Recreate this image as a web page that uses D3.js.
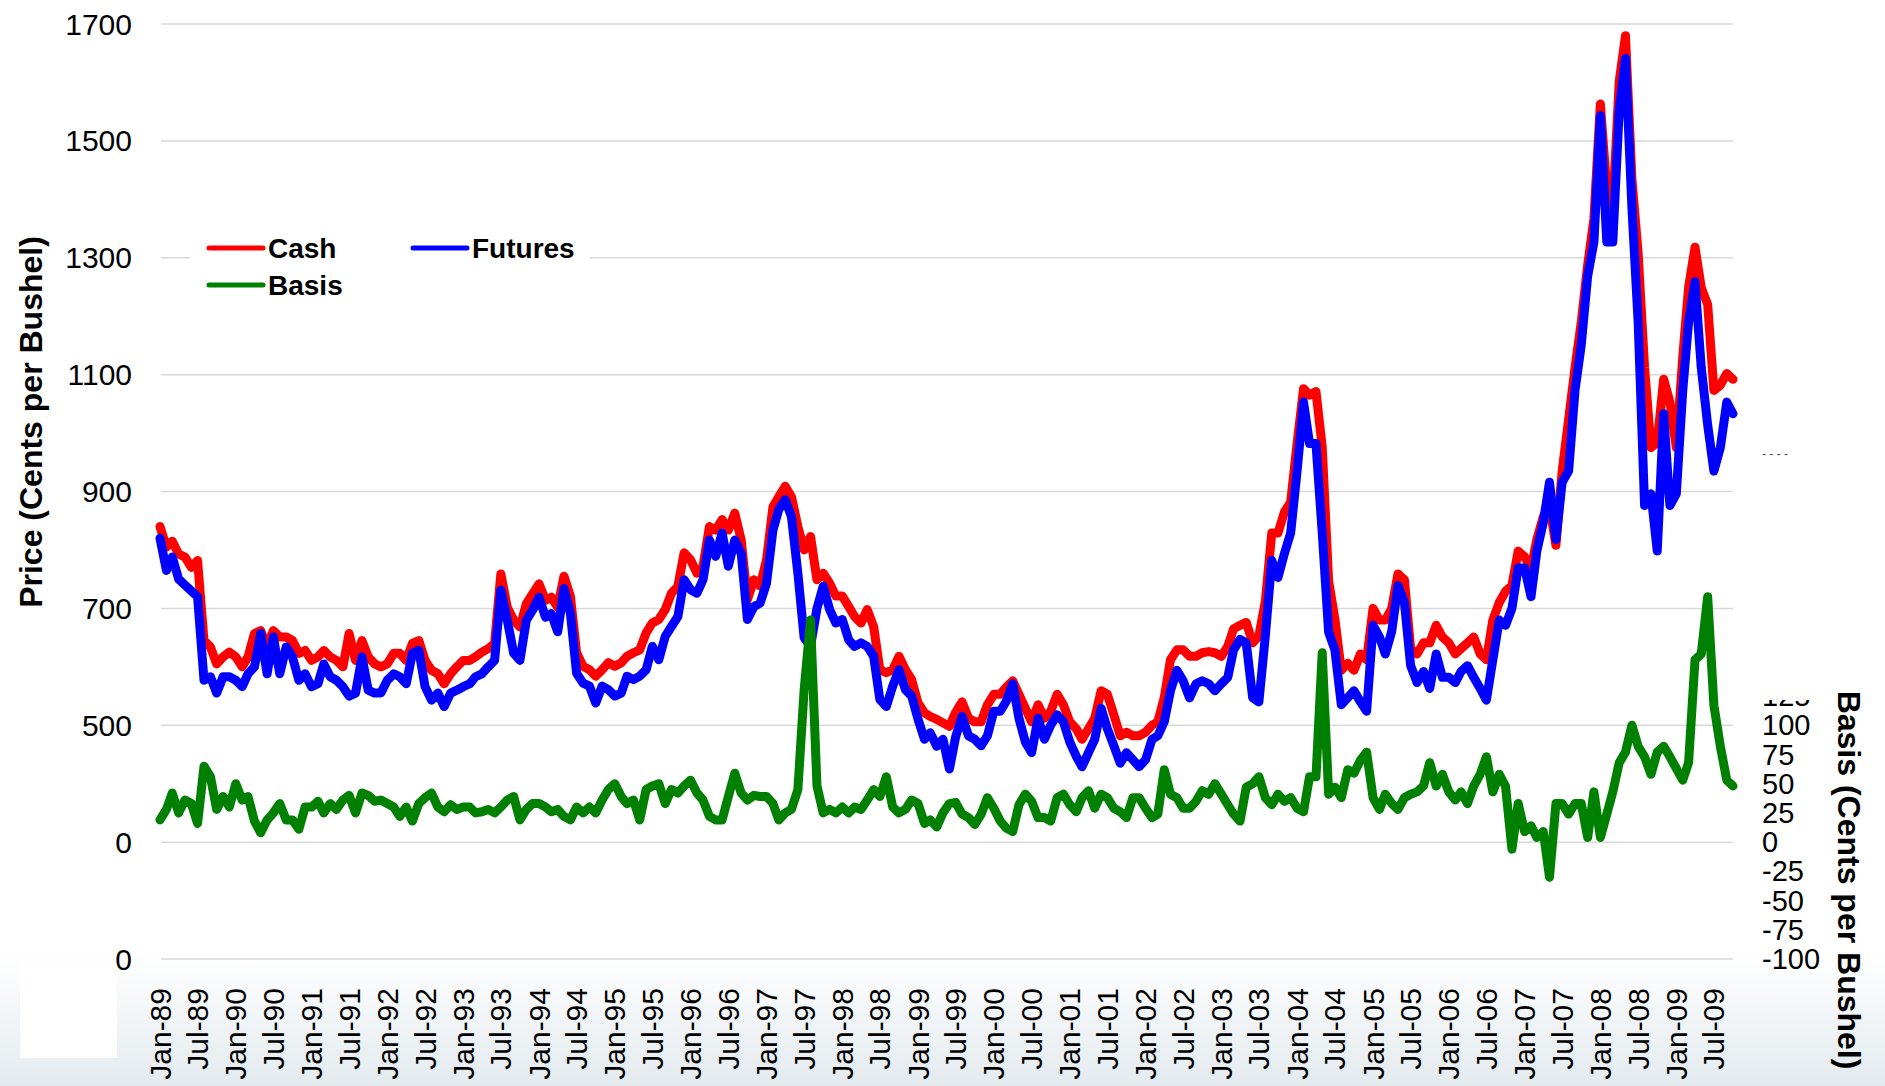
<!DOCTYPE html>
<html>
<head>
<meta charset="utf-8">
<script src="https://cdn.jsdelivr.net/npm/d3@7"></script>
<style>
  body { margin: 0; background: #fff; }
  svg { display: block; }
  text { font-family: "Liberation Sans", Arial, sans-serif; }
</style>
</head>
<body>
<svg id="chart" width="1885" height="1086"></svg>
<script>
// monthly values, Jan-89 .. Oct-09 (cents per bushel)
var cash = [
  840, 805, 815, 793, 788, 770, 782, 645, 634, 605, 617, 625,
  617, 600, 617, 657, 662, 634, 662, 651, 651, 645, 623, 628,
  611, 617, 628, 617, 611, 600, 657, 611, 645, 617, 605, 600,
  605, 623, 623, 611, 640, 645, 611, 594, 588, 571, 588, 600,
  611, 611, 617, 625, 631, 640, 759, 702, 680, 668, 708, 725,
  742, 714, 719, 702, 755, 721, 624, 601, 595, 584, 595, 607,
  601, 607, 618, 624, 629, 658, 675, 681, 698, 726, 738, 795,
  783, 760, 772, 840, 834, 852, 834, 863, 817, 715, 749, 738,
  783, 874, 891, 909, 891, 840, 800, 823, 749, 760, 743, 721,
  721, 703, 686, 675, 698, 669, 595, 590, 595, 618, 595, 578,
  538, 521, 515, 510, 504, 498, 522, 540, 512, 506, 506, 535,
  553, 553, 565, 576, 553, 529, 506, 535, 512, 524, 553, 535,
  506, 494, 476, 494, 512, 559, 553, 518, 482, 488, 482, 482,
  488, 500, 506, 547, 612, 629, 629, 618, 618, 624, 626, 624,
  618, 635, 665, 671, 676, 641, 653, 712, 829, 829, 865, 882,
  982, 1076, 1065, 1071, 976, 747, 682, 594, 606, 594, 622, 612,
  700, 680, 680, 700, 759, 749, 631, 622, 641, 641, 671, 651,
  641, 622, 631, 641, 651, 622, 612, 680, 710, 729, 739, 798,
  788, 769, 818, 857, 876, 808, 935, 1023, 1112, 1190, 1288, 1367,
  1563, 1416, 1386, 1602, 1680, 1435, 1308, 1112, 975, 984, 1092, 1053,
  975, 1131, 1249, 1318, 1249, 1220, 1073, 1082, 1102, 1092
];
var futures = [
  820, 765, 788, 750, 740, 730, 720, 577, 583, 555, 583, 583,
  577, 566, 588, 600, 657, 588, 651, 588, 634, 617, 577, 588,
  566, 571, 605, 583, 577, 566, 550, 555, 617, 560, 555, 555,
  577, 588, 583, 571, 623, 628, 566, 543, 555, 532, 555, 560,
  566, 571, 583, 588, 600, 611, 731, 680, 623, 611, 680, 697,
  719, 685, 691, 660, 734, 692, 589, 572, 567, 538, 567, 561,
  550, 555, 584, 578, 584, 595, 635, 612, 652, 669, 686, 749,
  732, 726, 749, 817, 789, 829, 772, 817, 794, 681, 703, 709,
  743, 834, 869, 886, 857, 760, 650, 635, 700, 738, 698, 675,
  681, 646, 635, 641, 635, 618, 544, 532, 567, 595, 561, 550,
  510, 476, 487, 464, 476, 425, 480, 515, 482, 476, 465, 482,
  524, 524, 541, 571, 512, 471, 453, 512, 476, 500, 518, 506,
  471, 447, 429, 453, 476, 529, 494, 465, 435, 453, 441, 429,
  441, 476, 482, 506, 559, 594, 576, 547, 571, 576, 571, 559,
  571, 582, 629, 647, 641, 547, 540, 653, 782, 753, 794, 829,
  935, 1053, 982, 982, 830, 659, 629, 535, 547, 559, 540, 524,
  671, 651, 622, 661, 739, 710, 602, 573, 592, 563, 622, 582,
  582, 573, 592, 602, 582, 563, 543, 612, 680, 671, 700, 769,
  769, 720, 798, 847, 916, 818, 916, 935, 1073, 1151, 1269, 1327,
  1543, 1327, 1327, 1553, 1641, 1386, 1190, 876, 896, 798, 1033, 876,
  896, 1073, 1190, 1259, 1112, 1014, 935, 975, 1053, 1033
];
var basis = [
  19, 28, 42, 25, 36, 33, 16, 65, 56, 28, 39, 30,
  50, 36, 39, 18, 8, 19, 25, 33, 19, 19, 11, 30,
  30, 35, 25, 33, 28, 36, 40, 25, 42, 40, 35, 36,
  33, 30, 22, 30, 18, 33, 38, 42, 30, 26, 32, 28,
  30, 30, 25, 26, 28, 25, 30, 36, 39, 19, 28, 33,
  33, 30, 26, 28, 22, 19, 30, 25, 30, 25, 36, 45,
  50, 39, 33, 36, 19, 45, 48, 50, 33, 45, 42, 48,
  53, 42, 36, 22, 19, 19, 39, 59, 42, 36, 40, 39,
  39, 33, 19, 25, 28, 45, 130, 190, 48, 25, 28, 25,
  30, 25, 30, 28, 36, 45, 39, 56, 30, 25, 28, 36,
  33, 16, 19, 13, 25, 33, 34, 24, 21, 15, 24, 38,
  29, 18, 12, 9, 32, 41, 35, 21, 21, 18, 38, 41,
  32, 26, 38, 44, 29, 41, 38, 29, 26, 21, 38, 38,
  29, 21, 24, 62, 41, 38, 29, 29, 35, 44, 41, 50,
  41, 32, 24, 18, 47, 50, 56, 38, 32, 41, 35, 38,
  29, 26, 56, 56, 162, 41, 47, 38, 62, 59, 70, 77,
  38, 28, 41, 33, 28, 38, 41, 43, 48, 68, 48, 58,
  43, 36, 43, 33, 48, 58, 73, 43, 58, 48, -6, 33,
  9, 14, 4, 9, -30, 33, 33, 24, 33, 33, 4, 43,
  4, 24, 43, 68, 77, 100, 82, 73, 58, 77, 82, 73,
  63, 53, 68, 156, 161, 210, 117, 82, 53, 48
];

var xTickLabels = [
  "Jan-89", "Jul-89", "Jan-90", "Jul-90", "Jan-91", "Jul-91", "Jan-92", "Jul-92",
  "Jan-93", "Jul-93", "Jan-94", "Jul-94", "Jan-95", "Jul-95", "Jan-96", "Jul-96",
  "Jan-97", "Jul-97", "Jan-98", "Jul-98", "Jan-99", "Jul-99", "Jan-00", "Jul-00",
  "Jan-01", "Jul-01", "Jan-02", "Jul-02", "Jan-03", "Jul-03", "Jan-04", "Jul-04",
  "Jan-05", "Jul-05", "Jan-06", "Jul-06", "Jan-07", "Jul-07", "Jan-08", "Jul-08",
  "Jan-09", "Jul-09"
];
var priceTicks = [1700, 1500, 1300, 1100, 900, 700, 500, 300, 100];
var priceTickLabels = ["1700", "1500", "1300", "1100", "900", "700", "500", "0", "0"];
var basisTicks = [125, 100, 75, 50, 25, 0, -25, -50, -75, -100];

var svg = d3.select("#chart");
var plotLeft = 161, plotRight = 1733, plotTop = 24, plotBottom = 959;

// background fade at the bottom
var defs = svg.append("defs");
var grad = defs.append("linearGradient").attr("id", "fade")
  .attr("x1", 0).attr("y1", 0).attr("x2", 0).attr("y2", 1);
grad.append("stop").attr("offset", "0%").attr("stop-color", "#ffffff");
grad.append("stop").attr("offset", "100%").attr("stop-color", "#e3eaee");
svg.append("rect").attr("x", 0).attr("y", 955).attr("width", 1885).attr("height", 131)
  .attr("fill", "url(#fade)");
svg.append("rect").attr("x", 20).attr("y", 962).attr("width", 97).attr("height", 96)
  .attr("fill", "#fff");

defs.append("clipPath").attr("id", "rclip")
  .append("rect").attr("x", 1740).attr("y", 700).attr("width", 140).attr("height", 300);

var start = new Date(1989, 0, 1);
var dates = cash.map(function (d, i) { return d3.timeMonth.offset(start, i); });

var x = d3.scaleTime()
  .domain([start, new Date(2009, 9, 1)])
  .range([160, plotRight]);
var y = d3.scaleLinear().domain([100, 1700]).range([plotBottom, plotTop]);
var yB = d3.scaleLinear().domain([-100, 700]).range([plotBottom, plotTop]);

// gridlines
svg.append("g").selectAll("line").data(priceTicks).enter().append("line")
  .attr("x1", plotLeft).attr("x2", plotRight)
  .attr("y1", function (d) { return y(d); })
  .attr("y2", function (d) { return y(d); })
  .attr("stroke", "#d9d9d9").attr("stroke-width", 1.5);

// left tick labels
svg.append("g").selectAll("text").data(priceTicks).enter().append("text")
  .attr("x", 132).attr("y", function (d) { return y(d); })
  .attr("dy", "0.35em").attr("text-anchor", "end")
  .style("font-size", "30px").attr("fill", "#000")
  .text(function (d, i) { return priceTickLabels[i]; });

// right tick labels (top one clipped as in the original)
svg.append("g").attr("clip-path", "url(#rclip)")
  .selectAll("text").data(basisTicks).enter().append("text")
  .attr("x", 1762).attr("y", function (d) { return yB(d); })
  .attr("dy", "0.35em").attr("text-anchor", "start")
  .style("font-size", "29px").attr("fill", "#000")
  .text(function (d) { return d; });
svg.append("text").attr("x", 1762).attr("y", 458)
  .style("font-size", "12px").attr("fill", "#444").text("- - - -");

// x tick labels
var xTicks = xTickLabels.map(function (d, i) { return d3.timeMonth.offset(start, 6 * i); });
svg.append("g").selectAll("text").data(xTicks).enter().append("text")
  .attr("transform", function (d) { return "translate(" + x(d) + ",988) rotate(-90)"; })
  .attr("dy", "0.35em").attr("text-anchor", "end")
  .style("font-size", "30px").attr("fill", "#000")
  .text(function (d, i) { return xTickLabels[i]; });

// axis titles
svg.append("text").attr("transform", "translate(31,422) rotate(-90)")
  .attr("dy", "0.35em").attr("text-anchor", "middle")
  .style("font-size", "32px").style("font-weight", "bold")
  .text("Price (Cents per Bushel)");
svg.append("text").attr("transform", "translate(1849,880) rotate(90)")
  .attr("dy", "0.35em").attr("text-anchor", "middle")
  .style("font-size", "32px").style("font-weight", "bold")
  .text("Basis (Cents per Bushel)");

// series
var priceLine = d3.line()
  .x(function (d, i) { return x(dates[i]); })
  .y(function (d) { return y(d); });
var basisLine = d3.line()
  .x(function (d, i) { return x(dates[i]); })
  .y(function (d) { return yB(d); });

function drawLine(data, gen, color) {
  svg.append("path").datum(data)
    .attr("d", gen)
    .attr("fill", "none")
    .attr("stroke", color)
    .attr("stroke-width", 9)
    .attr("stroke-linejoin", "round")
    .attr("stroke-linecap", "round");
}
drawLine(cash, priceLine, "#ff0000");
drawLine(futures, priceLine, "#0000ff");
drawLine(basis, basisLine, "#008000");

// legend
var legend = svg.append("g");
legend.append("rect").attr("x", 190).attr("y", 225).attr("width", 400).attr("height", 80)
  .attr("fill", "#fff");
var items = [
  { name: "Cash", color: "#ff0000", lx: 209, ly: 248 },
  { name: "Futures", color: "#0000ff", lx: 413, ly: 248 },
  { name: "Basis", color: "#008000", lx: 209, ly: 285 }
];
items.forEach(function (it) {
  legend.append("line")
    .attr("x1", it.lx).attr("x2", it.lx + 54)
    .attr("y1", it.ly).attr("y2", it.ly)
    .attr("stroke", it.color).attr("stroke-width", 5).attr("stroke-linecap", "round");
  legend.append("text")
    .attr("x", it.lx + 59).attr("y", it.ly).attr("dy", "0.35em")
    .style("font-size", "28px").style("font-weight", "bold")
    .text(it.name);
});
</script>
</body>
</html>
